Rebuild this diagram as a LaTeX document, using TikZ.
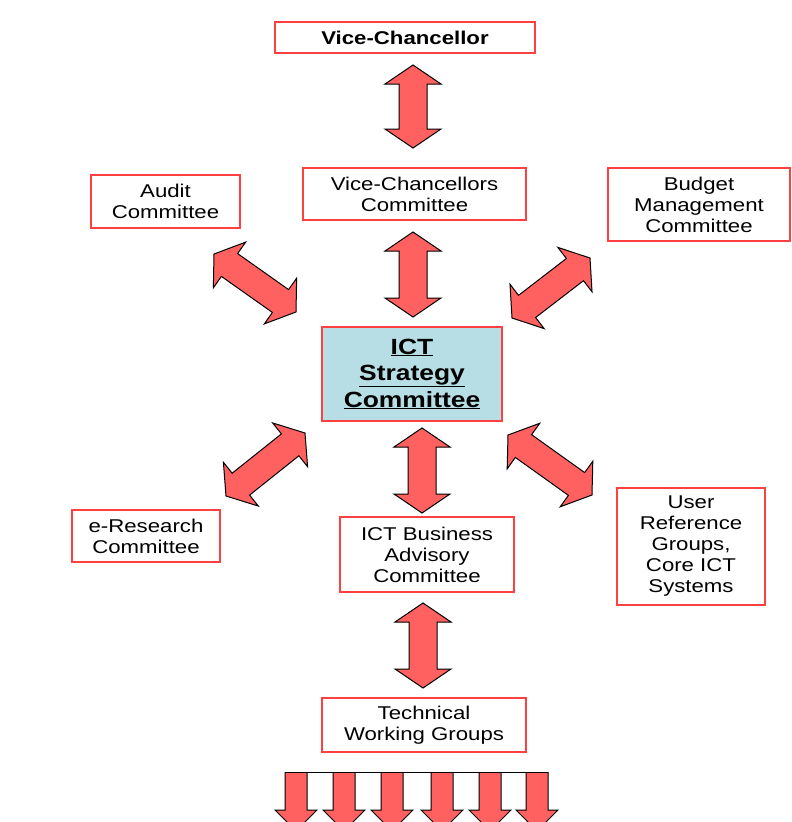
\documentclass[tikz,border=0pt]{standalone}
\usepackage{fontspec}
\setmainfont{Liberation Sans}[FakeStretch=1.2]
\usetikzlibrary{calc,positioning}

\definecolor{boxred}{RGB}{255,64,64}
\definecolor{arrred}{RGB}{255,96,96}
\definecolor{ictblue}{RGB}{183,222,228}

% double block arrow between two named points
\newcommand{\blockarrow}[2]{%
  \filldraw[blockarr] (#1)
    -- ($(#1)!19pt!(#2)!28pt!90:(#2)$) -- ($(#1)!19pt!(#2)!14pt!90:(#2)$)
    -- ($(#2)!19pt!(#1)!14pt!-90:(#1)$) -- ($(#2)!19pt!(#1)!28pt!-90:(#1)$)
    -- (#2)
    -- ($(#2)!19pt!(#1)!28pt!90:(#1)$) -- ($(#2)!19pt!(#1)!14pt!90:(#1)$)
    -- ($(#1)!19pt!(#2)!14pt!-90:(#2)$) -- ($(#1)!19pt!(#2)!28pt!-90:(#2)$)
    -- cycle;}

\begin{document}
\begin{tikzpicture}[x=1pt, y=-1pt,
    box/.style={draw=boxred, line width=1.6pt, fill=white, align=center, inner sep=0pt,
      font=\fontsize{18.5}{21}\selectfont},
    blockarr/.style={fill=arrred, draw=black, line width=1pt, line join=miter}]

    \useasboundingbox (0,0) rectangle (792,822);
    \clip (0,0) rectangle (792,822);

    % top of the chain
    \node[box, minimum width=260pt, minimum height=31pt,
      font=\fontsize{18.5}{21}\selectfont\bfseries] (vc) at (405,37.5) {Vice-Chancellor};
    \node[box, minimum width=223pt, minimum height=52pt] (vcc) at (414.5,194) {Vice-Chancellors\\Committee};
    \node[box, minimum width=149pt, minimum height=53pt] (audit) at (165.5,201.5) {Audit\\Committee};
    \node[box, minimum width=182pt, minimum height=73pt] (budget) at (699,204.5) {Budget\\Management\\Committee};

    % centre
    \node[box, fill=ictblue, minimum width=180pt, minimum height=94pt,
      font=\fontsize{22}{26.5}\selectfont\bfseries] (ict) at (412,374)
      {\underline{ICT}\\\underline{Strategy}\\\underline{Committee}};

    % lower groups
    \node[box, minimum width=148pt, minimum height=52pt] (eres) at (146,536) {e-Research\\Committee};
    \node[box, minimum width=174pt, minimum height=75pt] (biz) at (427,554.5) {ICT Business\\Advisory\\Committee};
    \node[box, minimum width=148pt, minimum height=117pt] (user) at (691,546.5) {User\\Reference\\Groups,\\Core ICT\\Systems};
    \node[box, minimum width=204pt, minimum height=54pt] (tech) at (424,725) {Technical\\Working Groups};

    % arrow ends
    \coordinate (vc-s) at (413,65);     \coordinate (vcc-n) at (413,148);
    \coordinate (vcc-s) at (413,232);   \coordinate (ict-n) at (413,317);
    \coordinate (audit-se) at (214,254); \coordinate (ict-nw) at (296,312);
    \coordinate (budget-sw) at (590,258); \coordinate (ict-ne) at (512,318);
    \coordinate (ict-sw) at (305,433);  \coordinate (eres-ne) at (226,496);
    \coordinate (ict-se) at (508,435);  \coordinate (user-nw) at (592,495);
    \coordinate (ict-s) at (422,428);   \coordinate (biz-n) at (422,513);
    \coordinate (biz-s) at (423,603);   \coordinate (tech-n) at (423,688);

    \blockarrow{vc-s}{vcc-n}
    \blockarrow{vcc-s}{ict-n}
    \blockarrow{audit-se}{ict-nw}
    \blockarrow{budget-sw}{ict-ne}
    \blockarrow{ict-sw}{eres-ne}
    \blockarrow{ict-se}{user-nw}
    \blockarrow{ict-s}{biz-n}
    \blockarrow{biz-s}{tech-n}

    % fan-out below the working groups
    \foreach \x in {296,344,392,442,490,537} {
      \filldraw[blockarr] (\x-11,772) -- (\x-11,810) -- (\x-21,810) -- (\x,831)
        -- (\x+21,810) -- (\x+11,810) -- (\x+11,772);
    }
    \draw[line width=1pt] (285,772) -- (548,772);

\end{tikzpicture}
\end{document}
